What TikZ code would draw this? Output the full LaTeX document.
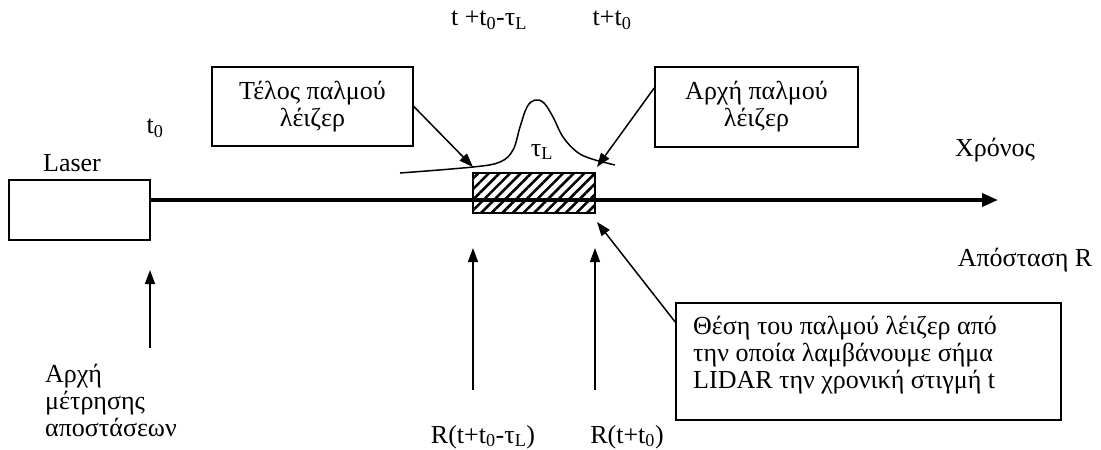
\documentclass[tikz,border=0pt]{standalone}
\usepackage{fontspec}
\setmainfont{Liberation Serif}
\usetikzlibrary{arrows.meta,patterns.meta}
\tikzset{
  callout/.style={draw,line width=1.6pt,align=center,inner sep=0pt},
  pointer/.style={line width=1.5pt,-{Triangle[length=14pt,width=10pt]}},
  label/.style={inner sep=0pt}
}
\begin{document}
\begin{tikzpicture}[x=1pt,y=-1pt,font=\fontsize{26}{27}\selectfont]
  \useasboundingbox (0,0) rectangle (1101,450);
  % laser and axis
  \node[callout,minimum width=141pt,minimum height=60pt] (laser) at (79.5,210) {};
  \node[label] (laserlabel) at (72,163) {Laser};
  \node[label] (tzero) at (155,128) {t\textsubscript{0}};
  \coordinate (axisend) at (998,200);
  \draw[line width=3.5pt,-{Triangle[length=16pt,width=13pt]}] (laser.east|-axisend) -- (axisend);
  % pulse
  \node[draw,line width=1.6pt,pattern={Lines[angle=45,distance=7.5pt,line width=2.6pt]},
        minimum width=122pt,minimum height=40pt,inner sep=0pt] (pulse) at (534,193) {};
  \draw[line width=1.5pt] plot[smooth,tension=0.6] coordinates {(400,173) (473,167) (500,162) (513,150)
    (520,127) (527,107) (535,100) (544,103) (553,117) (563,137) (577,152) (592,159) (615,165)};
  \node[label] (taul) at (542,152) {τ\textsubscript{L}};
  \node[label] (tstart) at (489,20) {t +t\textsubscript{0}-τ\textsubscript{L}};
  \node[label] (tend) at (612,20) {t+t\textsubscript{0}};
  % callouts on top
  \node[callout,minimum width=201pt,minimum height=79pt] (tail) at (312.5,106.5) {Τέλος παλμού\\λέιζερ};
  \node[callout,minimum width=203pt,minimum height=80pt] (head) at (756.5,107) {Αρχή παλμού\\λέιζερ};
  \coordinate (tailtip) at (473,167);
  \coordinate (headtip) at (597,167);
  \draw[pointer] (tail.east) -- (tailtip);
  \draw[pointer] (head.west|-0,88) -- (headtip);
  \node[label] (time) at (995,150) {Χρόνος};
  \node[label] (range) at (1025,260) {Απόσταση R};
  % lower part
  \coordinate (origin) at (150,270);
  \draw[pointer] (150,348) -- (origin);
  \node[label,align=left,anchor=north west] (originlabel) at (45,364) {Αρχή\\μέτρησης\\αποστάσεων};
  \coordinate (rtail) at (473,248);
  \coordinate (rhead) at (595,248);
  \draw[pointer] (473,390) -- (rtail);
  \draw[pointer] (595,390) -- (rhead);
  \node[label] (rtaillabel) at (483,437) {R(t+t\textsubscript{0}-τ\textsubscript{L})};
  \node[label] (rheadlabel) at (627,437) {R(t+t\textsubscript{0})};
  \node[callout,minimum width=385pt,minimum height=117pt] (lidar) at (868.5,361.5) {};
  \node[label,align=left,anchor=north west] (lidartext) at (693,316)
    {Θέση του παλμού λέιζερ από\\την οποία λαμβάνουμε σήμα\\LIDAR την χρονική στιγμή  t};
  \coordinate (lidartip) at (597,222);
  \draw[pointer] (lidar.west|-0,322) -- (lidartip);
\end{tikzpicture}
\end{document}
